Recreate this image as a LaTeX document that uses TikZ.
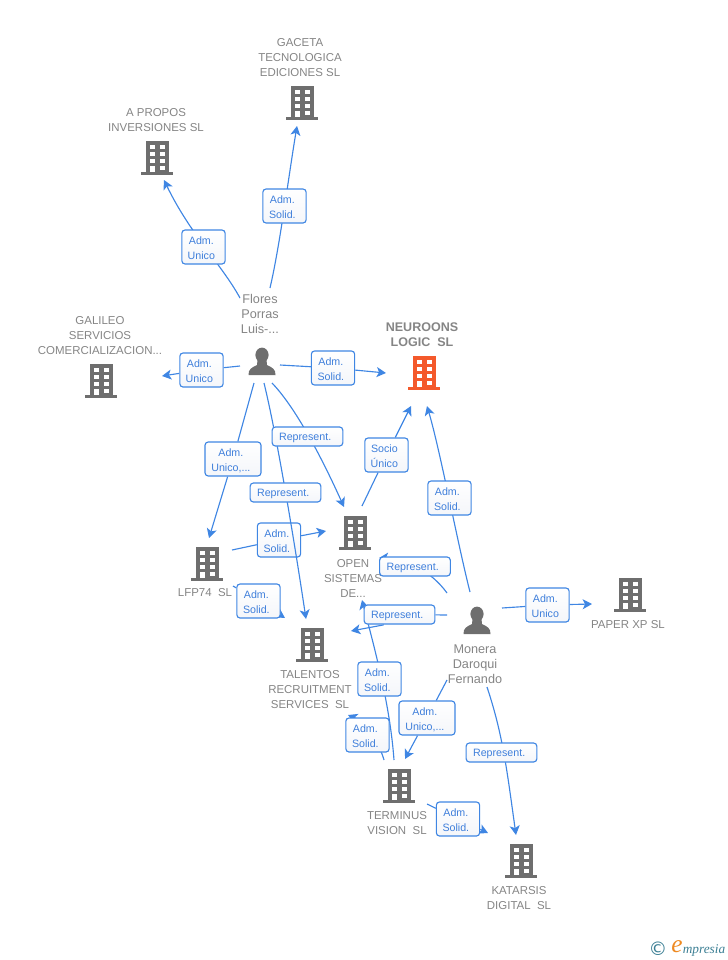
\documentclass[tikz,border=0pt]{standalone}
\usepackage{fontspec}
\setmainfont{Liberation Sans}
\newfontfamily\logofont{Liberation Serif}
\newfontfamily\symfont{DejaVu Sans}
\usetikzlibrary{arrows.meta,backgrounds}
\definecolor{lineblue}{HTML}{3F86E3}
\definecolor{textblue}{HTML}{3F7FDB}
\definecolor{icongrey}{HTML}{6E6E6E}
\definecolor{labelgrey}{HTML}{858585}
\definecolor{iconorange}{HTML}{F4592B}
\definecolor{logoteal}{HTML}{3C7F94}
\definecolor{logoorange}{HTML}{EE8A22}
\definecolor{boxbottom}{HTML}{F4F6FA}
\tikzset{
  connline/.style={draw=lineblue,line width=0.85pt},
  arrowed/.style={connline,-{Stealth[length=7pt,width=7.5pt,inset=1.8pt]}},
  lblbox/.style={draw=lineblue,line width=0.85pt,rounded corners=2.4pt,fill=white,top color=white,bottom color=boxbottom,
    text=textblue,inner sep=0pt,align=center,font=\fontsize{8}{11.25}\selectfont},
  twobox/.style={lblbox,minimum width=32.5pt,minimum height=25.5pt},
  widebox/.style={lblbox,minimum width=42pt,minimum height=25.5pt},
  repbox/.style={lblbox,minimum width=53pt,minimum height=14.25pt},
  nodename/.style={text=labelgrey,align=center,inner sep=0pt,font=\fontsize{8.6}{11.25}\selectfont},
  mainname/.style={nodename,font=\fontsize{9.4}{11.25}\selectfont\bfseries},
  personname/.style={nodename,font=\fontsize{9.5}{11.25}\selectfont},
  iconbox/.style={inner sep=0pt,minimum width=24pt,minimum height=26pt}
}
\newcommand{\twolines}[2]{\rule{0pt}{7.8pt}#1\hspace*{3.2pt}\\#2\hspace*{3.2pt}}
\newcommand{\oneline}[1]{\rule{0pt}{7.8pt}#1\hspace*{3.5pt}}
\newcommand{\bldg}[4]{%
  \node[iconbox] (#1) at (#2,#3) {};
  \begin{scope}[shift={(#1.center)}]
    \fill[#4] (-11.5,-17) rectangle (12,15);
    \fill[#4] (-16,14) rectangle (16,17);
    \foreach \wy in {-13,-6,1}{
      \fill[white] (-7.5,\wy) rectangle (-2.5,\wy+4);
      \fill[white] (2.5,\wy) rectangle (7.5,\wy+4);
    }
    \fill[white] (-7.5,7.5) rectangle (-2.5,14);
    \fill[white] (2.5,7.5) rectangle (7.5,12);
  \end{scope}}
\newcommand{\persona}[3]{%
  \node[iconbox] (#1) at (#2,#3) {};
  \begin{scope}[shift={(#1.center)}]
    \fill[icongrey] (0,-7) ellipse (6.6 and 7.4);
    \fill[icongrey] (-13.5,13) .. controls (-13.8,7) and (-10,5.5) .. (-5,3)
      -- (-4.5,-2) -- (4.5,-2) -- (5,3) .. controls (10,5.5) and (13.8,7) .. (13.5,13) -- cycle;
  \end{scope}}
\begin{document}
\begin{tikzpicture}[x=0.75pt,y=-0.75pt]
\useasboundingbox (0,0) rectangle (728,960);
% icons
\bldg{gaceta}{302}{103}{icongrey}
\bldg{apropos}{157}{158}{icongrey}
\bldg{galileo}{101}{381}{icongrey}
\bldg{neuroons}{424}{373}{iconorange}
\bldg{open}{355}{533}{icongrey}
\bldg{lfp}{207}{564}{icongrey}
\bldg{talentos}{312}{645}{icongrey}
\bldg{paper}{630}{595}{icongrey}
\bldg{terminus}{399}{786}{icongrey}
\bldg{katarsis}{521}{861}{icongrey}
\persona{flores}{262}{362}
\persona{monera}{477}{621}
% names
\node[nodename] (tgaceta) at (300,58) {GACETA\\TECNOLOGICA\\EDICIONES SL};
\node[nodename] (tapropos) at (156,120.5) {A PROPOS\\INVERSIONES SL};
\node[nodename] (tgalileo) at (100,336) {GALILEO\\SERVICIOS\\COMERCIALIZACION...};
\node[mainname] (tneuroons) at (422,334.5) {NEUROONS\\LOGIC\ \ SL};
\node[personname] (tflores) at (260,314) {Flores\\Porras\\Luis-...};
\node[nodename] (topen) at (353,578) {OPEN\\SISTEMAS\\DE...};
\node[nodename] (tlfp) at (205,593) {LFP74\ \ SL};
\node[nodename] (ttalentos) at (310,690) {TALENTOS\\RECRUITMENT\\SERVICES\ \ SL};
\node[personname] (tmonera) at (475,664) {Monera\\Daroqui\\Fernando};
\node[nodename] (tpaper) at (628,625) {PAPER XP SL};
\node[nodename] (tterminus) at (397,823.5) {TERMINUS\\VISION\ \ SL};
\node[nodename] (tkatarsis) at (519,898.5) {KATARSIS\\DIGITAL\ \ SL};
% connector labels
\node[twobox] (l1) at (284.5,206) {\twolines{Adm.}{Solid.}};
\node[twobox] (l2) at (203.5,247) {\twolines{Adm.}{Unico}};
\node[twobox] (l3) at (201.5,370) {\twolines{Adm.}{Unico}};
\node[twobox] (l4) at (333,368) {\twolines{Adm.}{Solid.}};
\node[widebox] (l6) at (233,459) {\twolines{Adm.}{Unico,...}};
\node[twobox] (l8) at (386.5,455) {\twolines{Socio}{Único}};
\node[twobox] (l9) at (449.5,498) {\twolines{Adm.}{Solid.}};
\node[twobox] (l10) at (279,540) {\twolines{Adm.}{Solid.}};
\node[twobox] (l11) at (258.5,601) {\twolines{Adm.}{Solid.}};
\node[repbox] (l12) at (415,566.5) {\oneline{Represent.}};
\node[repbox] (l13) at (399.5,614.5) {\oneline{Represent.}};
\node[twobox] (l14) at (547.5,605) {\twolines{Adm.}{Unico}};
\node[twobox] (l15) at (379.5,679) {\twolines{Adm.}{Solid.}};
\node[twobox] (l16) at (367.5,735) {\twolines{Adm.}{Solid.}};
\node[widebox] (l17) at (427,718) {\twolines{Adm.}{Unico,...}};
\node[repbox] (l18) at (501.5,752.5) {\oneline{Represent.}};
\node[twobox] (l19) at (458,819) {\twolines{Adm.}{Solid.}};
% free connector ends
\coordinate (s1) at (270,288);    \coordinate (e1) at (297,126);
\coordinate (s2) at (240,298);    \coordinate (e2) at (164,180);
\coordinate (s3) at (240,366);    \coordinate (e3) at (162,376);
\coordinate (s4) at (280,365);    \coordinate (e4) at (386,373);
\coordinate (s5) at (272,383);    \coordinate (e5) at (344,507);
\coordinate (s6) at (254,383);    \coordinate (e6) at (209,538);
\coordinate (s7) at (264,383);    \coordinate (e7) at (306,619);
\coordinate (s8) at (362,506);    \coordinate (e8) at (411,406);
\coordinate (s9) at (470,592);    \coordinate (e9) at (427,406);
\coordinate (s10) at (232,550);   \coordinate (e10) at (326,531);
\coordinate (s11) at (233,586);   \coordinate (e11) at (285,618);
\coordinate (s12) at (447,593);   \coordinate (e12) at (379,558);
\coordinate (s13) at (447,615);   \coordinate (m13) at (383,625);  \coordinate (e13) at (351,631);
\coordinate (s14) at (502,608);   \coordinate (e14) at (592,604);
\coordinate (s15) at (394,760);   \coordinate (e15) at (362,600);
\coordinate (s16) at (384,760);   \coordinate (e16) at (348,715);
\coordinate (s17) at (447,680);   \coordinate (e17) at (405,759);
\coordinate (s18) at (487,687);   \coordinate (e18) at (516,835);
\coordinate (s19) at (427,804);   \coordinate (e19) at (488,833);
\begin{scope}[on background layer]
\draw[arrowed] (s1) .. controls (280,245) and (288,180) .. (e1);
\draw[arrowed] (s2) .. controls (222,265) and (190,234) .. (e2);
\draw[arrowed] (s3) -- (l3) -- (e3);
\draw[arrowed] (s4) -- (l4) -- (e4);
\draw[arrowed] (s5) .. controls (298,410) and (326,467) .. (e5);
\draw[arrowed] (s6) -- (l6) -- (e6);
\draw[arrowed] (s8) -- (l8) -- (e8);
\draw[arrowed] (s9) .. controls (458,545) and (440,450) .. (e9);
\draw[arrowed] (s10) -- (l10) -- (e10);
\draw[arrowed] (s11) -- (l11) -- (e11);
\draw[arrowed] (s12) .. controls (432,572) and (405,557) .. (e12);
\draw[arrowed] (s13) -- (l13) -- (m13) -- (e13);
\draw[arrowed] (s14) -- (l14) -- (e14);
\draw[arrowed] (s15) .. controls (390,705) and (375,650) .. (e15);
\draw[arrowed] (s16) .. controls (380,745) and (365,722) .. (e16);
\draw[arrowed] (s17) -- (l17) -- (e17);
\draw[arrowed] (s18) .. controls (503,735) and (507,771) .. (e18);
\draw[arrowed] (s19) -- (l19) -- (e19);
\end{scope}
% this connector crosses over l10 and runs under the two Represent. boxes
\draw[arrowed] (s7) .. controls (278,440) and (297,559) .. (e7);
\node[repbox] (l5) at (307.5,436.5) {\oneline{Represent.}};
\node[repbox] (l7) at (285.5,492.5) {\oneline{Represent.}};
% logo
\node[inner sep=0pt,text=logoteal,font=\symfont\fontsize{14}{14}\selectfont] (logoc) at (658,949) {©};
\node[inner sep=0pt,text=logoorange,font=\logofont\itshape\fontsize{19}{19}\selectfont] (logoe) at (677,947) {e};
\node[inner sep=0pt,anchor=west,text=logoteal,font=\logofont\itshape\fontsize{10}{10}\selectfont] (logot) at (682.5,950) {mpresia};
\end{tikzpicture}
\end{document}
